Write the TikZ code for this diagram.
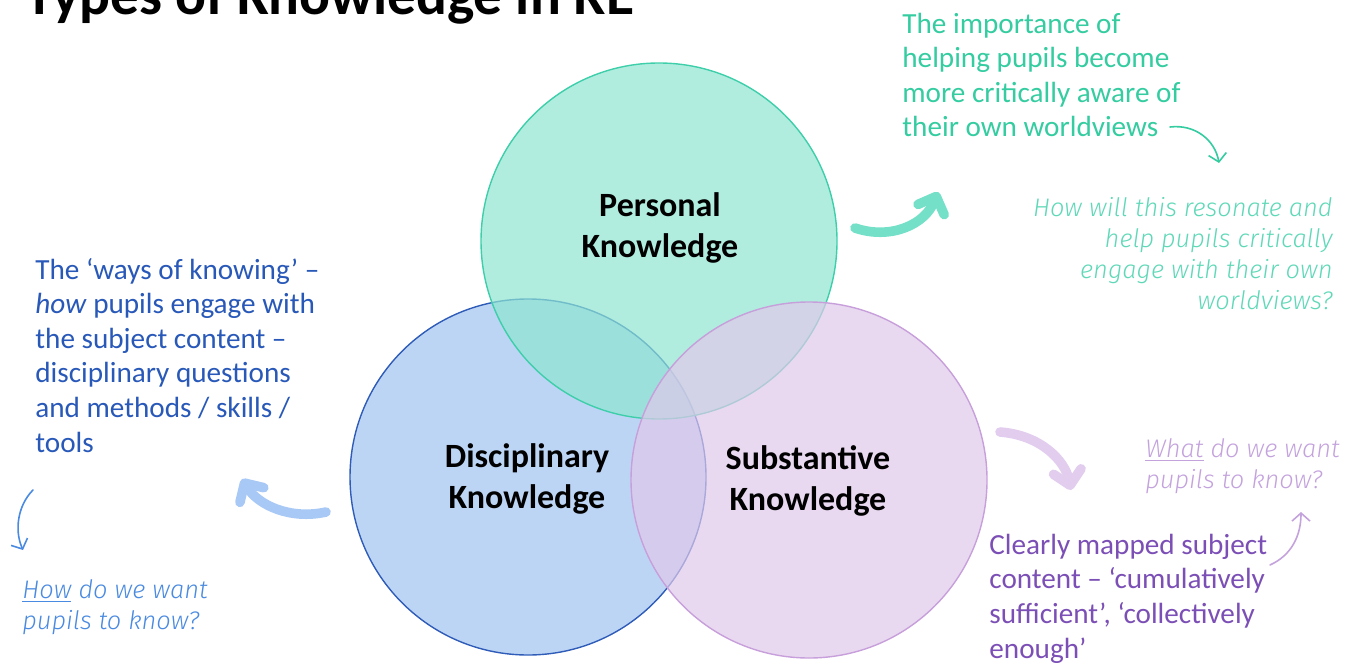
\documentclass[tikz,border=0pt]{standalone}
\usepackage{fontspec}
\setmainfont{Carlito}
\newfontfamily\lightit{Fira Sans Light Italic}
\usetikzlibrary{arrows.meta}

\definecolor{persfill}{RGB}{142,229,209}
\definecolor{persline}{RGB}{62,207,170}
\definecolor{discfill}{RGB}{161,195,241}
\definecolor{discline}{RGB}{46,92,184}
\definecolor{substfill}{RGB}{224,201,234}
\definecolor{substline}{RGB}{199,159,219}
\definecolor{greentext}{RGB}{52,204,160}
\definecolor{greenit}{RGB}{96,216,184}
\definecolor{bluetext}{RGB}{40,88,184}
\definecolor{blueit}{RGB}{74,138,224}
\definecolor{purpletext}{RGB}{123,79,181}
\definecolor{purpleit}{RGB}{196,163,221}
\definecolor{greenarrow}{RGB}{116,224,200}
\definecolor{bluearrow}{RGB}{168,200,245}
\definecolor{purplearrow}{RGB}{226,205,238}

\tikzset{
  venn/.style={circle, minimum size=178pt, inner sep=0pt, line width=0.7pt, fill opacity=0.7, text opacity=1},
  vlabel/.style={font=\fontsize{17}{20.5}\selectfont\bfseries, align=center, text=black},
  % multi-line notes are placed by the baseline of their last line
  note/.style={font=\fontsize{14.6}{17.3}\selectfont, align=left, inner sep=0pt, anchor=base west},
  question/.style={font=\fontsize{12.7}{15.5}\lightit, inner sep=0pt, anchor=base west},
  bigarrow/.style={line width=4.8pt, line cap=round, line join=round,
    -{Straight Barb[length=7pt, width=14pt, line cap=round, line join=round]}},
  thinarrow/.style={line width=0.8pt, line cap=round,
    -{Straight Barb[length=4pt, width=9pt]}}
}

\begin{document}
\begin{tikzpicture}[x=0.5pt, y=-0.5pt]
\useasboundingbox (0,0) rectangle (1353,663);

% title, partly cut off by the top edge
\node[font=\fontsize{28.8}{32}\selectfont\bfseries, anchor=base west, inner sep=0pt] (title) at (25,15) {Types of Knowledge in RE};

% the three circles
\node[venn, draw=discline, fill=discfill] (disc) at (528,477) {};
\node[venn, draw=persline, fill=persfill] (pers) at (659,241) {};
\node[venn, draw=substline, fill=substfill] (subst) at (809,480) {};

\node[vlabel] (perslabel) at (660,228) {Personal\\Knowledge};
\node[vlabel] (disclabel) at (527,479) {Disciplinary\\Knowledge};
\node[vlabel] (substlabel) at (808,481) {Substantive\\Knowledge};

% personal knowledge notes
\node[note, text=greentext] (persnote) at (902,137)
  {The importance of\\helping pupils become\\more critically aware of\\their own worldviews};
\node[question, text=greenit, align=right, anchor=base east] (persq) at (1333,309)
  {How will this resonate and\\help pupils critically\\engage with their own\\worldviews?};

% disciplinary knowledge notes
\node[note, text=bluetext] (discnote) at (35,452)
  {The `ways of knowing' --\\\textit{how} pupils engage with\\the subject content --\\disciplinary questions\\and methods / skills /\\tools};
\node[question, text=blueit, align=left] (discq) at (22,629)
  {\underline{How} do we want\\pupils to know?};

% substantive knowledge notes
\node[note, text=purpletext] (substnote) at (989,658)
  {Clearly mapped subject\\content -- `cumulatively\\sufficient', `collectively\\enough'};
\node[question, text=purpleit, align=left] (substq) at (1145,488)
  {\underline{What} do we want\\pupils to know?};

% arrow end points
\coordinate (ga1) at (855,228);
\coordinate (ga2) at (938,192);
\coordinate (gt1) at (1170,127);
\coordinate (gt2) at (1219,163);
\coordinate (ba1) at (326,512);
\coordinate (ba2) at (242,479);
\coordinate (bt1) at (33,490);
\coordinate (bt2) at (23,550);
\coordinate (pa1) at (1000,432);
\coordinate (pa2) at (1071,490);
\coordinate (pt1) at (1270,565);
\coordinate (pt2) at (1301,512);

\draw[bigarrow, greenarrow] (ga1) .. controls (890,240) and (925,225) .. (ga2);
\draw[thinarrow, greentext] (gt1) .. controls (1195,124) and (1215,140) .. (gt2);
\draw[bigarrow, bluearrow] (ba1) .. controls (290,520) and (258,505) .. (ba2);
\draw[thinarrow, blueit] (bt1) .. controls (18,505) and (14,530) .. (bt2);
\draw[bigarrow, purplearrow] (pa1) .. controls (1040,435) and (1065,460) .. (pa2);
\draw[thinarrow, purpleit] (pt1) .. controls (1292,555) and (1301,535) .. (pt2);
\end{tikzpicture}
\end{document}
